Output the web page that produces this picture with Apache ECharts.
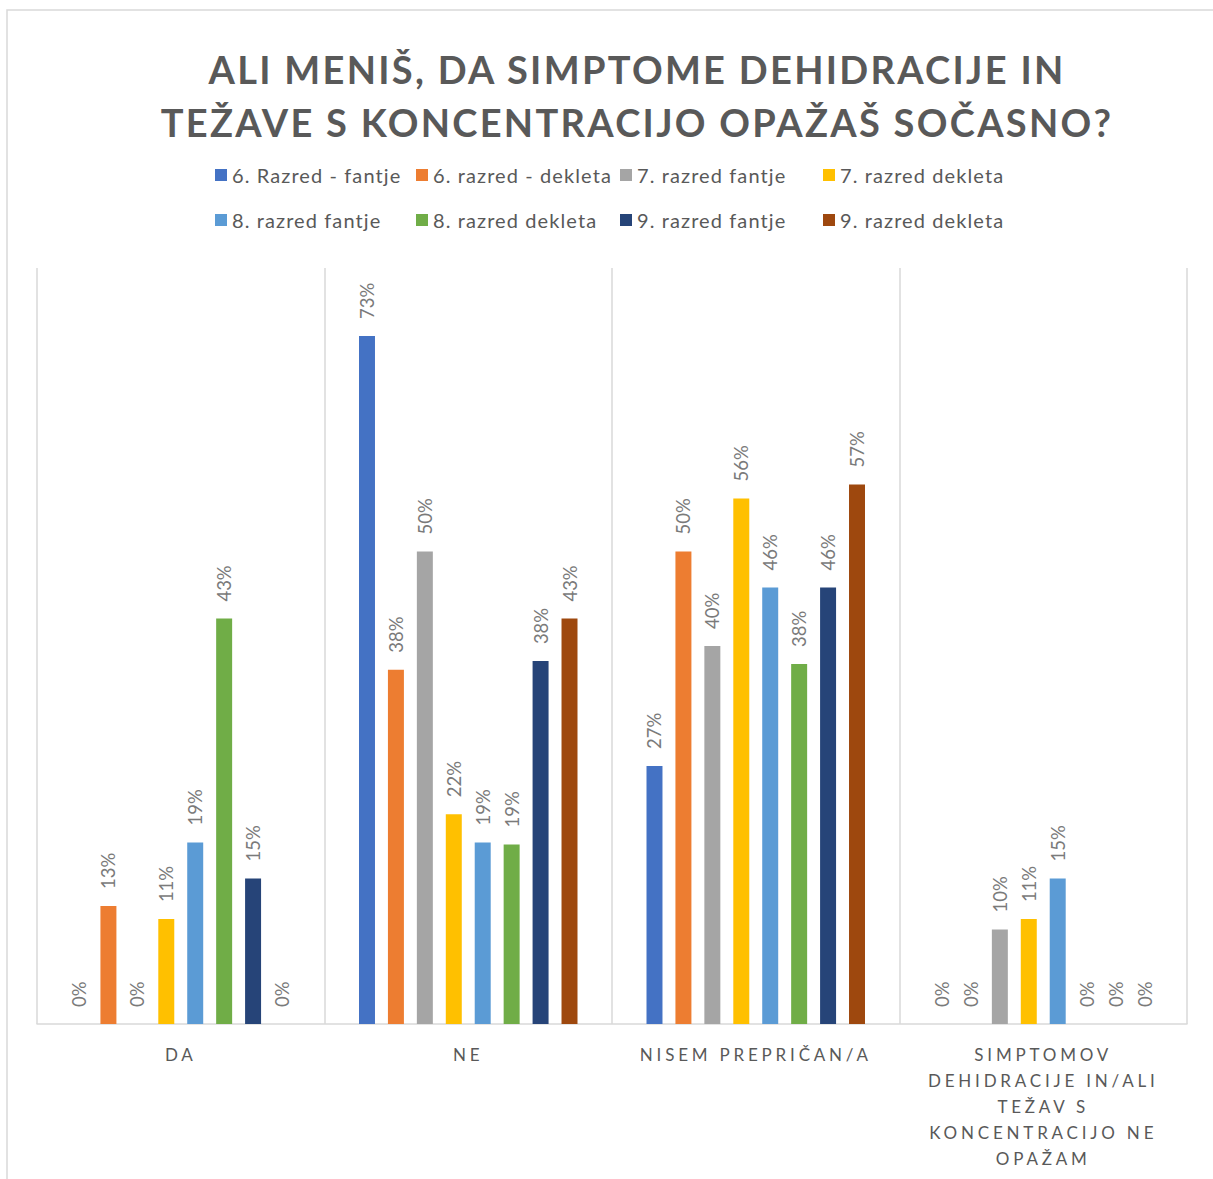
<!DOCTYPE html>
<html>
<head>
<meta charset="utf-8">
<script src="https://cdn.jsdelivr.net/npm/echarts@6/dist/echarts.min.js"></script>
<style>
html,body{margin:0;padding:0;background:#fff;}
#chart{width:1213px;height:1179px;}
</style>
</head>
<body>
<div id="chart"></div>
<script>
// ---- data ----
const titleText = 'ALI MENIŠ, DA SIMPTOME DEHIDRACIJE IN\nTEŽAVE S KONCENTRACIJO OPAŽAŠ SOČASNO?';
const categories = ['DA', 'NE', 'NISEM PREPRIČAN/A', 'SIMPTOMOV\nDEHIDRACIJE IN/ALI\nTEŽAV S\nKONCENTRACIJO NE\nOPAŽAM'];
const seriesNames = ['6. Razred - fantje', '6. razred - dekleta', '7. razred fantje', '7. razred dekleta',
                     '8. razred fantje', '8. razred dekleta', '9. razred fantje', '9. razred dekleta'];
const s6f = [0, 72.8, 27.3, 0];
const s6d = [12.5, 37.5, 50.0, 0];
const s7f = [0, 50.0, 40.0, 10.0];
const s7d = [11.1, 22.2, 55.6, 11.1];
const s8f = [19.2, 19.2, 46.2, 15.4];
const s8d = [42.9, 19.0, 38.1, 0];
const s9f = [15.4, 38.4, 46.2, 0];
const s9d = [0, 42.9, 57.1, 0];
const colors = ['#4472C4', '#ED7D31', '#A5A5A5', '#FFC000', '#5B9BD5', '#70AD47', '#264478', '#9E480E'];

const allData = [s6f, s6d, s7f, s7d, s8f, s8d, s9f, s9d];
const FONT = 'Lato, "Open Sans", sans-serif';
const titleLines = titleText.split('\n');
const axisLines = categories.join('\n').split('\n');

// legend grid layout (4 columns x 2 rows)
const legendCols = [215, 416, 620, 823];
const legendRows = [165, 210];
const legends = seriesNames.map((n, i) => ({
  data: [n],
  left: legendCols[i % 4],
  top: legendRows[Math.floor(i / 4)],
  padding: 0,
  itemWidth: 12, itemHeight: 12, icon: 'rect',
  textStyle: {fontFamily: FONT, fontSize: 20, color: '#595959'}
}));

const chart = echarts.init(document.getElementById('chart'), null, {renderer: 'svg'});
chart.setOption({
  animation: false,
  backgroundColor: '#fff',
  color: colors,
  title: {
    text: titleText,
    left: 632,
    top: 37,
    textAlign: 'center',
    textStyle: {fontFamily: FONT, fontSize: 38, fontWeight: 'bold', color: '#595959', lineHeight: 53}
  },
  legend: legends,
  grid: {left: 37, right: 26, top: 268, bottom: 155, containLabel: false},
  xAxis: {
    type: 'category',
    data: categories,
    axisLine: {lineStyle: {color: '#D9D9D9', width: 1.5}},
    axisTick: {show: false},
    splitLine: {show: true, lineStyle: {color: '#D9D9D9', width: 1.5}},
    axisLabel: {fontFamily: FONT, fontSize: 17, color: '#595959', lineHeight: 26, margin: 17, interval: 0}
  },
  yAxis: {type: 'value', min: 0, max: 80, show: false, splitLine: {show: false}},
  graphic: [{type: 'rect', shape: {x: 7, y: 10, width: 1300, height: 1300}, style: {fill: 'none', stroke: '#D9D9D9', lineWidth: 1.5}, silent: true}],
  series: seriesNames.map((n, i) => ({
    name: n,
    type: 'bar',
    data: allData[i],
    barGap: '81%',
    barCategoryGap: '24%',
    label: {
      show: true,
      position: 'top',
      rotate: 90,
      align: 'left',
      verticalAlign: 'middle',
      distance: 17,
      fontFamily: FONT,
      fontSize: 18.5,
      color: '#7A7A7A',
      formatter: p => Math.round(p.value) + '%'
    }
  }))
});

function applySpacing() {
  const texts = document.querySelectorAll('#chart svg text');
  texts.forEach(t => {
    const s = (t.textContent || '').trim();
    if (titleLines.includes(s)) t.style.letterSpacing = '2.3px';
    else if (axisLines.includes(s)) t.style.letterSpacing = '3.8px';
    else if (seriesNames.includes(s)) t.style.letterSpacing = '1.1px';
  });
}
chart.on('finished', applySpacing);
applySpacing();
setTimeout(applySpacing, 50);
setTimeout(applySpacing, 300);
</script>
</body>
</html>
